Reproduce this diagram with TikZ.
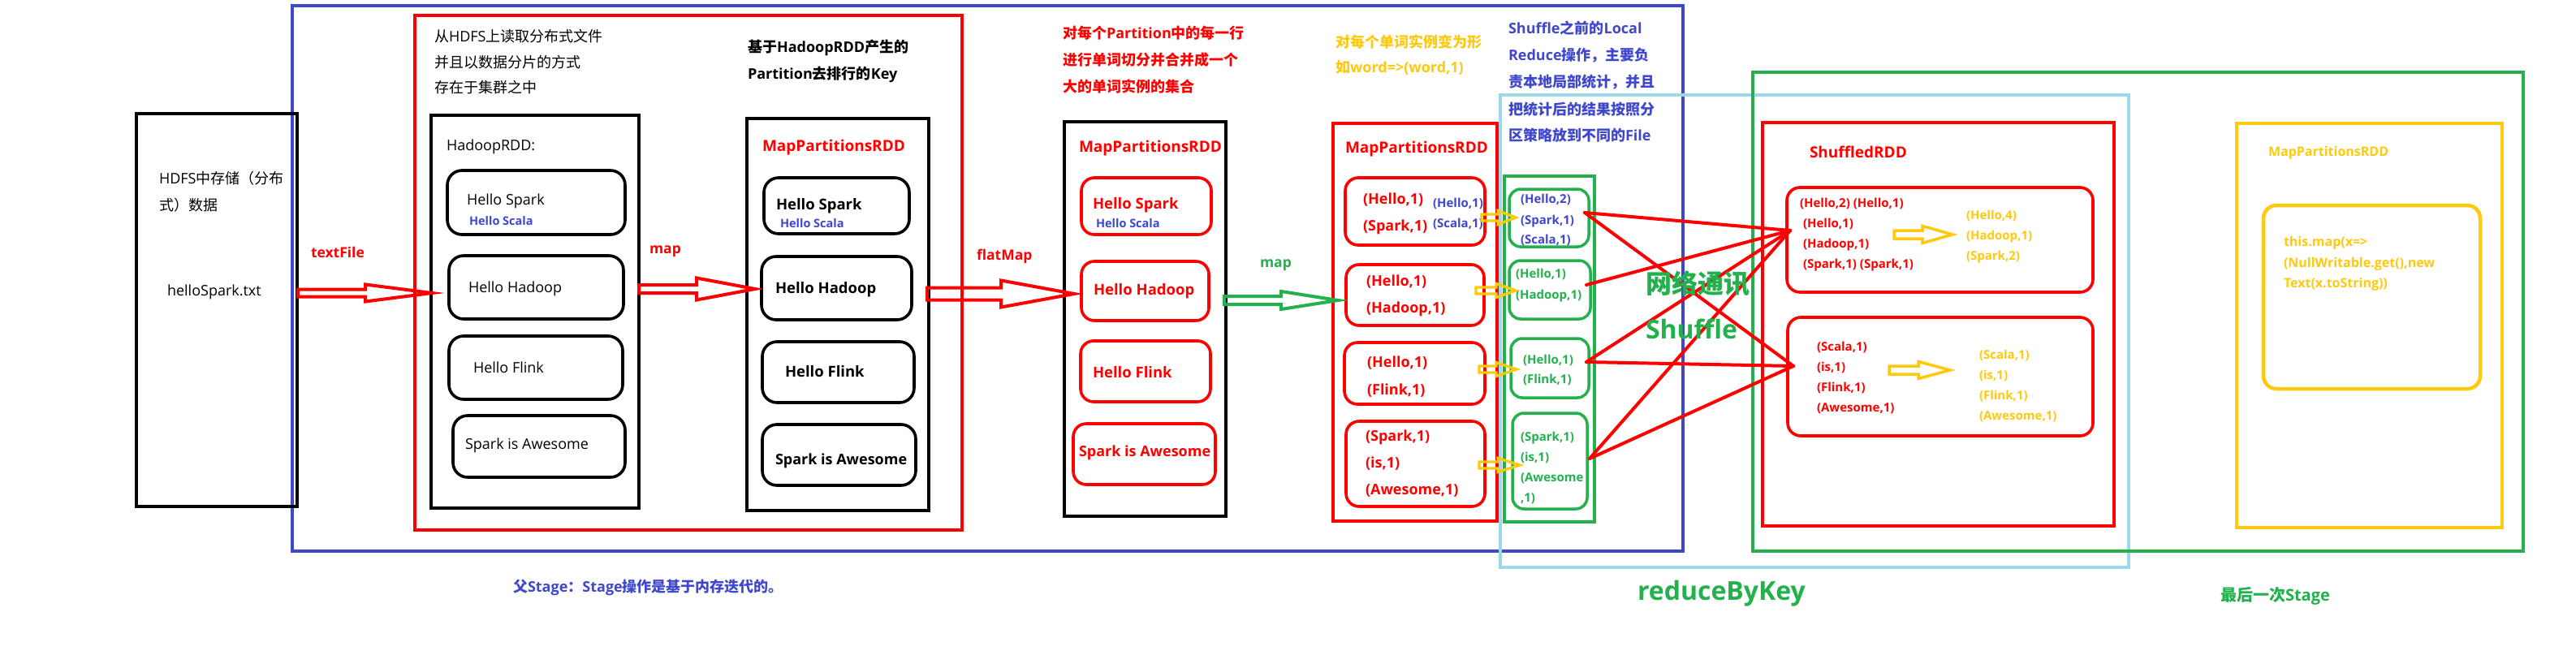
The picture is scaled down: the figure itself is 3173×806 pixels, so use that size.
\documentclass[tikz,border=0pt]{standalone}
\usepackage{fontspec}
\setmainfont{Open Sans}
\newfontfamily\cjk{Noto Sans CJK SC}
\usetikzlibrary{fit}
\definecolor{pred}{HTML}{FF0000}
\definecolor{pblue}{HTML}{3F48CC}
\definecolor{pgreen}{HTML}{22B14C}
\definecolor{pyellow}{HTML}{FFC90E}
\definecolor{plblue}{HTML}{99D9EA}
\newcommand\C[1]{{\cjk #1}}
\newcommand\fsz[1]{\fontsize{#1}{#1}\selectfont}
% [style]{name}{x1}{y1}{x2}{y2}
\newcommand\boxAt[6][]{\node[fit={(#3,#4) (#5,#6)}, inner sep=0pt, outer sep=0pt, #1] (#2) {};}
% [style]{name}{x}{ycenter}{size}{text}
\newcommand\putText[6][]{\node[txt, font=\fsz{#5}, #1] (#2) at (#3,{#4+0.36*#5}) {#6};}
% {style}{x0}{xh}{x1}{y}{a}{b}
\newcommand\hollowArr[7]{\draw[#1, line join=miter] (#2,{#5-#6}) -- (#3,{#5-#6}) -- (#3,{#5-#7}) -- (#4,#5) -- (#3,{#5+#7}) -- (#3,{#5+#6}) -- (#2,{#5+#6}) -- cycle;}
\begin{document}
\begin{tikzpicture}[x=1pt,y=-1pt,
  txt/.style={anchor=base west, inner sep=0pt, outer sep=0pt},
  bf/.style={execute at begin node=\bfseries},
  frameK/.style={draw=black, line width=4.5pt},
  rk/.style={draw=black, line width=3.6pt, rounded corners=18pt},
  rr/.style={draw=pred, line width=3.6pt, rounded corners=16pt},
  rg/.style={draw=pgreen, line width=3.5pt, rounded corners=14pt},
  shufline/.style={draw=pred, line width=4pt, line cap=round}]
\useasboundingbox (0,0) rectangle (3173,806);
\fill[white] (0,0) rectangle (3173,806);

% stage frames
\boxAt[draw=pblue, line width=4.5pt]{stageA}{360}{7}{2073}{679}
\boxAt[draw=plblue, line width=4pt]{reduce}{1848}{117}{2622}{699}
\boxAt[draw=pgreen, line width=4.5pt]{stageB}{2159}{89}{3108}{679}

% HDFS
\boxAt[frameK]{hdfs}{168}{140}{366}{624}
\putText{tHdfsA}{196}{220}{18}{HDFS\C{中存储（分布}}
\putText{tHdfsB}{196}{253}{18}{\C{式）数据}}
\putText{tFile}{206}{358}{18}{helloSpark.txt}

% HadoopRDD group
\boxAt[draw=pred, line width=4.5pt]{grpA}{511}{19}{1185}{653}
\putText{tReadA}{535}{45}{18}{\C{从}HDFS\C{上读取分布式文件}}
\putText{tReadB}{535}{77}{18}{\C{并且以数据分片的方式}}
\putText{tReadC}{535}{108}{18}{\C{存在于集群之中}}
\boxAt[draw=black, line width=3.6pt]{hrdd}{531}{142}{787}{626}
\putText{tHrdd}{550}{179}{18}{HadoopRDD:}
\boxAt[rk]{hb1}{551}{210}{770}{289}
\boxAt[rk]{hb2}{553}{315}{768}{393}
\boxAt[rk]{hb3}{553}{414}{767}{492}
\boxAt[rk]{hb4}{558}{512}{770}{588}
\putText{tH1}{575}{246}{18}{Hello Spark}
\putText[bf,text=pblue]{tH1b}{578}{272}{14.5}{Hello Scala}
\putText{tH2}{577}{354}{18}{Hello Hadoop}
\putText{tH3}{583}{453}{18}{Hello Flink}
\putText{tH4}{573}{547}{18}{Spark is Awesome}

% MapPartitionsRDD (map)
\putText[bf]{tKeyA}{921}{58}{18}{\C{基于}HadoopRDD\C{产生的}}
\putText[bf]{tKeyB}{921}{91}{18}{Partition\C{去排行的}Key}
\boxAt[draw=black, line width=4pt]{mrddA}{920}{146}{1144}{629}
\putText[bf,text=pred]{tMrddA}{939}{180}{19}{MapPartitionsRDD}
\boxAt[rk]{mb1}{941}{219}{1120}{288}
\boxAt[rk]{mb2}{938}{316}{1123}{394}
\boxAt[rk]{mb3}{939}{421}{1126}{496}
\boxAt[rk]{mb4}{939}{523}{1128}{598}
\putText[bf]{tM1}{956}{252}{18.5}{Hello Spark}
\putText[bf,text=pblue]{tM1b}{961}{275}{14.5}{Hello Scala}
\putText[bf]{tM2}{955}{355}{18.5}{Hello Hadoop}
\putText[bf]{tM3}{967}{458}{18.5}{Hello Flink}
\putText[bf]{tM4}{955}{566}{18}{Spark is Awesome}

% MapPartitionsRDD (flatMap)
\putText[bf,text=pred]{tSplitA}{1309}{41}{18}{\C{对每个}Partition\C{中的每一行}}
\putText[bf,text=pred]{tSplitB}{1309}{74}{18}{\C{进行单词切分并合并成一个}}
\putText[bf,text=pred]{tSplitC}{1309}{107}{18}{\C{大的单词实例的集合}}
\boxAt[draw=black, line width=4pt]{mrddB}{1311}{150}{1510}{636}
\putText[bf,text=pred]{tMrddB}{1329}{181}{19}{MapPartitionsRDD}
\boxAt[rr]{fb1}{1332}{219}{1492}{289}
\boxAt[rr]{fb2}{1332}{322}{1489}{395}
\boxAt[rr]{fb3}{1331}{420}{1491}{495}
\boxAt[rr]{fb4}{1322}{522}{1497}{597}
\putText[bf,text=pred]{tF1}{1346}{251}{18.5}{Hello Spark}
\putText[bf,text=pblue]{tF1b}{1350}{275}{14.5}{Hello Scala}
\putText[bf,text=pred]{tF2}{1347}{357}{18.5}{Hello Hadoop}
\putText[bf,text=pred]{tF3}{1346}{459}{18.5}{Hello Flink}
\putText[bf,text=pred]{tF4}{1329}{556}{18}{Spark is Awesome}

% MapPartitionsRDD (map to pairs)
\putText[bf,text=pyellow]{tPairA}{1645}{52}{18}{\C{对每个单词实例变为形}}
\putText[bf,text=pyellow]{tPairB}{1645}{83}{18}{\C{如}word=>(word,1)}
\boxAt[draw=pred, line width=4.5pt]{mrddC}{1642}{152}{1844}{642}
\putText[bf,text=pred]{tMrddC}{1657}{182}{19}{MapPartitionsRDD}
\boxAt[rr]{pb1}{1657}{219}{1829}{302}
\boxAt[rr]{pb2}{1658}{326}{1828}{401}
\boxAt[rr]{pb3}{1656}{422}{1829}{498}
\boxAt[rr]{pb4}{1658}{519}{1829}{624}
\putText[bf,text=pred]{tP1a}{1679}{245}{18}{(Hello,1)}
\putText[bf,text=pred]{tP1b}{1679}{278}{18}{(Spark,1)}
\putText[bf,text=pblue]{tP1c}{1765}{250}{15}{(Hello,1)}
\putText[bf,text=pblue]{tP1d}{1765}{275}{15}{(Scala,1)}
\putText[bf,text=pred]{tP2a}{1683}{346}{18}{(Hello,1)}
\putText[bf,text=pred]{tP2b}{1683}{379}{18}{(Hadoop,1)}
\putText[bf,text=pred]{tP3a}{1684}{446}{18}{(Hello,1)}
\putText[bf,text=pred]{tP3b}{1684}{480}{18}{(Flink,1)}
\putText[bf,text=pred]{tP4a}{1682}{537}{18}{(Spark,1)}
\putText[bf,text=pred]{tP4b}{1682}{570}{18}{(is,1)}
\putText[bf,text=pred]{tP4c}{1682}{603}{18}{(Awesome,1)}

% local reduce column
\putText[bf,text=pblue]{tLocA}{1858}{35}{18}{Shuffle\C{之前的}Local}
\putText[bf,text=pblue]{tLocB}{1858}{68}{18}{Reduce\C{操作，主要负}}
\putText[bf,text=pblue]{tLocC}{1858}{101}{18}{\C{责本地局部统计，并且}}
\putText[bf,text=pblue]{tLocD}{1858}{135}{18}{\C{把统计后的结果按照分}}
\putText[bf,text=pblue]{tLocE}{1858}{167}{18}{\C{区策略放到不同的}File}
\boxAt[draw=pgreen, line width=4pt]{comb}{1853}{217}{1964}{643}
\boxAt[rg]{g1}{1859}{233}{1957}{304}
\boxAt[rg]{g2}{1859}{321}{1959}{393}
\boxAt[rg]{g3}{1861}{417}{1957}{490}
\boxAt[rg]{g4}{1863}{509}{1955}{627}
\putText[bf,text=pblue]{tG1a}{1873}{245}{15}{(Hello,2)}
\putText[bf,text=pblue]{tG1b}{1873}{271}{15}{(Spark,1)}
\putText[bf,text=pblue]{tG1c}{1873}{295}{15}{(Scala,1)}
\putText[bf,text=pgreen]{tG2a}{1867}{337}{15}{(Hello,1)}
\putText[bf,text=pgreen]{tG2b}{1867}{363}{15}{(Hadoop,1)}
\putText[bf,text=pgreen]{tG3a}{1876}{443}{15}{(Hello,1)}
\putText[bf,text=pgreen]{tG3b}{1876}{467}{15}{(Flink,1)}
\putText[bf,text=pgreen]{tG4a}{1873}{538}{15}{(Spark,1)}
\putText[bf,text=pgreen]{tG4b}{1873}{563}{15}{(is,1)}
\putText[bf,text=pgreen]{tG4c}{1873}{588}{15}{(Awesome}
\putText[bf,text=pgreen]{tG4d}{1873}{613}{15}{,1)}

% ShuffledRDD
\boxAt[draw=pred, line width=4.5pt]{shuf}{2171}{151}{2604}{648}
\putText[bf,text=pred]{tShuf}{2229}{188}{19}{ShuffledRDD}
\boxAt[rr]{sb1}{2201}{231}{2578}{360}
\boxAt[rr]{sb2}{2202}{391}{2578}{537}
\putText[bf,text=pred]{tS1a}{2217}{250}{15}{(Hello,2) (Hello,1)}
\putText[bf,text=pred]{tS1b}{2221}{275}{15}{(Hello,1)}
\putText[bf,text=pred]{tS1c}{2221}{300}{15}{(Hadoop,1)}
\putText[bf,text=pred]{tS1d}{2221}{325}{15}{(Spark,1) (Spark,1)}
\putText[bf,text=pyellow]{tR1a}{2422}{265}{15}{(Hello,4)}
\putText[bf,text=pyellow]{tR1b}{2422}{290}{15}{(Hadoop,1)}
\putText[bf,text=pyellow]{tR1c}{2422}{315}{15}{(Spark,2)}
\putText[bf,text=pred]{tS2a}{2238}{427}{15}{(Scala,1)}
\putText[bf,text=pred]{tS2b}{2238}{452}{15}{(is,1)}
\putText[bf,text=pred]{tS2c}{2238}{477}{15}{(Flink,1)}
\putText[bf,text=pred]{tS2d}{2238}{502}{15}{(Awesome,1)}
\putText[bf,text=pyellow]{tR2a}{2438}{437}{15}{(Scala,1)}
\putText[bf,text=pyellow]{tR2b}{2438}{462}{15}{(is,1)}
\putText[bf,text=pyellow]{tR2c}{2438}{487}{15}{(Flink,1)}
\putText[bf,text=pyellow]{tR2d}{2438}{512}{15}{(Awesome,1)}

% final MapPartitionsRDD
\boxAt[draw=pyellow, line width=4.5pt]{final}{2755}{152}{3082}{650}
\putText[bf,text=pyellow]{tMrddD}{2794}{187}{16}{MapPartitionsRDD}
\boxAt[draw=pyellow, line width=4.5pt, rounded corners=16pt]{code}{2788}{253}{3055}{479}
\putText[bf,text=pyellow]{tCodeA}{2813}{298}{16}{this.map(x=>}
\putText[bf,text=pyellow]{tCodeB}{2813}{324}{16}{(NullWritable.get(),new}
\putText[bf,text=pyellow]{tCodeC}{2813}{349}{16}{Text(x.toString))}

% block arrows
\putText[bf,text=pred]{tTextFile}{383}{311}{17.5}{textFile}
\putText[bf,text=pred]{tMap}{800}{306}{17.5}{map}
\putText[bf,text=pred]{tFlat}{1203}{314}{17.5}{flatMap}
\putText[bf,text=pgreen]{tMapB}{1552}{323}{17.5}{map}
\hollowArr{draw=pred, line width=4pt}{367}{450}{532}{361}{4.5}{10.5}
\hollowArr{draw=pred, line width=4pt}{787}{858}{930}{356}{5}{13.5}
\hollowArr{draw=pred, line width=4pt}{1142}{1233}{1323}{362}{7.5}{16.5}
\hollowArr{draw=pgreen, line width=4pt}{1508}{1578}{1648}{370}{5}{11}
\hollowArr{draw=pyellow, line width=3.3pt}{1825}{1845}{1867}{268}{4}{8.5}
\hollowArr{draw=pyellow, line width=3.3pt}{1818}{1843}{1867}{358}{4}{8.5}
\hollowArr{draw=pyellow, line width=3.3pt}{1822}{1843}{1868}{455}{4}{8.5}
\hollowArr{draw=pyellow, line width=3.3pt}{1822}{1845}{1872}{573}{4}{8.5}
\hollowArr{draw=pyellow, line width=3.5pt}{2333}{2368}{2405}{289}{5}{10.5}
\hollowArr{draw=pyellow, line width=3.5pt}{2327}{2363}{2402}{456}{5}{10.5}

% shuffle connectors
\coordinate (g1o) at (1952,262);
\coordinate (g2o) at (1954,351);
\coordinate (g3o) at (1954,446);
\coordinate (g4o) at (1958,565);
\coordinate (s1i) at (2205,284);
\coordinate (s2i) at (2209,451);
\draw[shufline] (g1o) -- (s1i);
\draw[shufline] (g1o) -- (s2i);
\draw[shufline] (g2o) -- (s1i);
\draw[shufline] (g3o) -- (s1i);
\draw[shufline] (g3o) -- (s2i);
\draw[shufline] (g4o) -- (s1i);
\draw[shufline] (g4o) -- (s2i);
\putText[bf,text=pgreen]{tNet}{2027}{350}{32}{\C{网络通讯}}
\putText[bf,text=pgreen]{tShuffle}{2027}{406}{32}{Shuffle}

% captions
\putText[bf,text=pblue]{tStageA}{632}{723}{18}{\C{父}Stage\C{：}Stage\C{操作是基于内存迭代的。}}
\putText[bf,text=pgreen]{tReduce}{2017}{728}{32}{reduceByKey}
\putText[bf,text=pgreen]{tStageB}{2735}{733}{20}{\C{最后一次}Stage}
\end{tikzpicture}
\end{document}
